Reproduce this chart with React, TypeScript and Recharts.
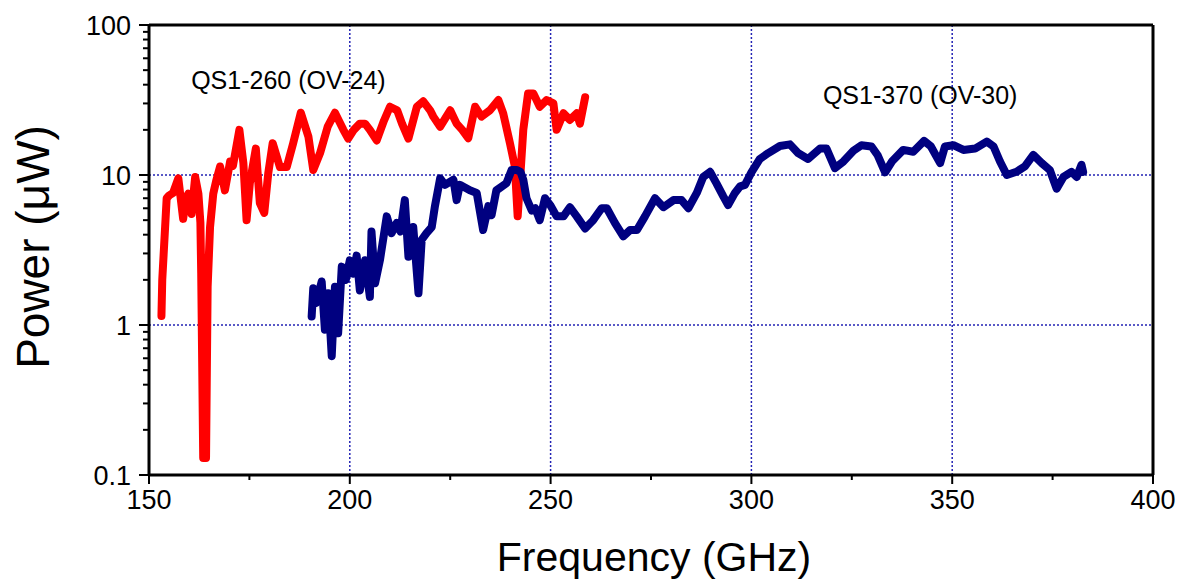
import React from 'react';
import { LineChart, Line, XAxis, YAxis, ReferenceLine, ReferenceDot, Label } from 'recharts';

// Output power of two quasi-optical sources vs. frequency
const qs260Freq = [
  153.1, 153.3, 154.4, 155.0, 156.0, 157.3, 158.5, 159.2, 159.8, 160.6, 161.5, 162.3, 162.8, 163.0,
  163.5, 164.2, 164.6, 165.2, 166.0, 166.8, 167.7, 168.9, 170.2, 170.9, 172.5, 173.5, 174.3, 175.1,
  176.6, 177.6, 178.7, 179.7, 180.8, 182.6, 184.3, 185.9, 187.8, 189.7, 190.9, 192.6, 194.5, 196.3,
  198.4, 199.6, 201.0, 202.5, 203.8, 205.0, 206.7, 208.5, 210.0, 211.8, 213.0, 214.6, 216.7, 218.3,
  220.0, 220.8, 222.5, 225.0, 226.6, 228.0, 229.5, 231.2, 232.8, 234.9, 237.0, 238.2, 239.9, 241.1,
  241.8, 242.4, 243.2, 244.4, 245.7, 247.3, 249.0, 250.7, 251.5, 253.2, 254.8, 256.5, 257.3, 258.6,
];
const qs260Power = [
  1.15, 2.0, 7.0, 7.3, 7.6, 9.5, 5.1, 7.0, 7.5, 5.5, 9.7, 7.5, 4.8, 2.2,
  0.13, 0.13, 1.8, 4.5, 7.5, 9.3, 11.4, 7.9, 12.3, 11.5, 20, 12, 5, 8.8,
  15, 6.5, 5.6, 10.3, 16.3, 11.3, 11.3, 16.3, 26, 18, 10.8, 14, 21, 26,
  20, 17.5, 20, 22, 22, 20, 17, 23, 28.5, 27, 22, 17.5, 28.5, 31,
  27, 24.5, 21, 27, 22, 20, 17.6, 28.5, 24.5, 27, 31.6, 25.8, 16.2, 11.4,
  5.3, 9.3, 20, 35, 35, 28.5, 31.6, 30, 20, 25.8, 23.3, 25.8, 22, 33,
];

const qs370Freq = [
  190.5, 190.9, 191.6, 193.0, 193.8, 194.6, 195.5, 196.3, 197.1, 198.0, 199.0, 200.0, 200.9, 201.7,
  202.5, 203.8, 205.0, 205.4, 206.3, 207.5, 209.2, 210.4, 211.7, 212.6, 213.7, 214.6, 215.8, 217.1,
  217.9, 219.1, 220.4, 221.2, 222.5, 223.7, 225.8, 226.6, 227.4, 229.9, 231.6, 233.2, 234.5, 235.3,
  236.5, 239.0, 240.3, 241.5, 242.5, 243.2, 244.0, 245.3, 246.2, 247.3, 248.6, 249.9, 251.5, 253.2,
  254.8, 256.5, 258.6, 260.6, 262.7, 264.0, 266.0, 268.1, 269.8, 271.5, 273.5, 276.0, 278.1, 280.6,
  282.6, 284.3, 286.4, 288.0, 289.7, 291.3, 293.0, 294.2, 295.9, 297.2, 298.4, 300.0, 302.1, 304.2,
  307.1, 309.6, 311.6, 314.1, 317.1, 318.7, 320.8, 322.9, 325.4, 327.4, 329.9, 331.4, 333.3, 335.1,
  337.8, 340.3, 343.0, 344.7, 347.0, 348.2, 350.3, 352.8, 355.7, 358.6, 360.3, 361.9, 363.6, 366.0,
  368.1, 370.2, 372.3, 374.3, 376.0, 377.7, 379.7, 381.0, 382.2, 382.6,
];
const qs370Power = [
  1.14, 1.76, 1.4, 1.95, 0.93, 1.63, 0.62, 1.8, 0.88, 2.45, 2.0, 2.7, 2.2, 2.9,
  1.7, 2.7, 1.54, 4.2, 1.9, 2.7, 5.3, 4.1, 4.8, 4.2, 6.8, 2.85, 4.5, 1.63,
  3.7, 4.1, 4.5, 6.2, 9.5, 8.6, 9.3, 6.8, 8.6, 7.9, 7.6, 4.3, 6.2, 5.4,
  7.9, 8.8, 10.8, 10.8, 10.5, 9.3, 7.0, 5.8, 6.0, 5.0, 7.0, 6.3, 5.3, 5.3,
  6.1, 5.3, 4.4, 5.0, 6.0, 6.0, 4.8, 3.9, 4.3, 4.3, 5.3, 7.0, 6.1, 6.8,
  6.8, 6.0, 7.6, 9.7, 10.5, 8.8, 7.2, 6.3, 7.6, 8.4, 8.6, 10.4, 12.8, 14,
  15.6, 16, 14, 12.8, 15, 15, 11.1, 12.3, 14.5, 15.8, 15.5, 13.6, 10.4, 12.4,
  14.7, 14.3, 16.9, 15.5, 12, 15.5, 15.8, 14.7, 15, 16.7, 15.5, 12.3, 10, 10.5,
  11.4, 13.6, 12, 10.8, 8.1, 9.7, 10.5, 9.7, 11.7, 10.5,
];

const xMajorTicks = [150, 200, 250, 300, 350, 400];
const xMinorTicks = [175, 225, 275, 325, 375];
const yMajorTicks = [0.1, 1, 10, 100];
const yMinorTicks = [
  0.2, 0.3, 0.4, 0.5, 0.6, 0.7, 0.8, 0.9,
  2, 3, 4, 5, 6, 7, 8, 9,
  20, 30, 40, 50, 60, 70, 80, 90,
];
const xGridValues = [200, 250, 300, 350];
const yGridValues = [1, 10];

const seriesLabels = [
  { text: 'QS1-260 (OV-24)', f: 160.5, p: 43 },
  { text: 'QS1-370 (OV-30)', f: 317.8, p: 34 },
];

const qs260 = qs260Freq.map((f, i) => ({ f, p: qs260Power[i] }));
const qs370 = qs370Freq.map((f, i) => ({ f, p: qs370Power[i] }));

const FONT = '"Liberation Sans", Arial, sans-serif';
const GRID = '#2323b4';
const X_TICK_SIZE = 9;
const X_TICK_MARGIN = 6;
const Y_TICK_SIZE = 10;
const Y_TICK_MARGIN = 8;

function XTick(props: any) {
  const { x, y, payload } = props;
  const major = xMajorTicks.includes(payload.value);
  const axisY = y - X_TICK_SIZE - X_TICK_MARGIN;
  return (
    <g>
      <line x1={x} x2={x} y1={axisY} y2={axisY + (major ? 9 : 5)} stroke="#000" strokeWidth={2} />
      {major && (
        <text x={x} y={y} dy="0.72em" textAnchor="middle" fontFamily={FONT} fontSize={27} fill="#000">
          {payload.value}
        </text>
      )}
    </g>
  );
}

function YTick(props: any) {
  const { x, y, payload } = props;
  const major = yMajorTicks.includes(payload.value);
  const axisX = x + Y_TICK_SIZE + Y_TICK_MARGIN;
  return (
    <g>
      <line x1={axisX} x2={axisX - (major ? 10 : 6)} y1={y} y2={y} stroke="#000" strokeWidth={2} />
      {major && (
        <text x={x} y={y} dy="0.36em" textAnchor="end" fontFamily={FONT} fontSize={27} fill="#000">
          {payload.value}
        </text>
      )}
    </g>
  );
}

export default function App() {
  return (
    <div style={{ position: 'absolute', left: 0, top: 0, background: '#fff' }}>
      <LineChart width={1184} height={583} margin={{ top: 25, right: 31, bottom: 0, left: 0 }}>
        <XAxis
          type="number"
          dataKey="f"
          domain={[150, 400]}
          ticks={[...xMajorTicks, ...xMinorTicks].sort((a, b) => a - b)}
          interval={0}
          height={108}
          tickSize={X_TICK_SIZE}
          tickMargin={X_TICK_MARGIN}
          tickLine={false}
          tick={<XTick />}
          axisLine={{ stroke: '#000', strokeWidth: 3 }}
          allowDataOverflow
        >
          <Label
            content={() => (
              <text x={654} y={557} textAnchor="middle" dominantBaseline="central" fontFamily={FONT} fontSize={41} fill="#000">
                Frequency (GHz)
              </text>
            )}
          />
        </XAxis>
        <YAxis
          type="number"
          dataKey="p"
          scale="log"
          domain={[0.1, 100]}
          ticks={[...yMajorTicks, ...yMinorTicks].sort((a, b) => a - b)}
          interval={0}
          width={149}
          tickSize={Y_TICK_SIZE}
          tickMargin={Y_TICK_MARGIN}
          tickLine={false}
          tick={<YTick />}
          axisLine={{ stroke: '#000', strokeWidth: 3 }}
          allowDataOverflow
        >
          <Label
            content={() => (
              <text x={33} y={247} transform="rotate(-90 33 247)" textAnchor="middle" dominantBaseline="central" fontFamily={FONT} fontSize={46} fill="#000">
                Power (μW)
              </text>
            )}
          />
        </YAxis>

        {xGridValues.map((v) => (
          <ReferenceLine key={`gx${v}`} x={v} stroke={GRID} strokeWidth={1.5} strokeDasharray="2 2" />
        ))}
        {yGridValues.map((v) => (
          <ReferenceLine key={`gy${v}`} y={v} stroke={GRID} strokeWidth={1.5} strokeDasharray="2 2" />
        ))}
        <ReferenceLine y={100} stroke="#000" strokeWidth={3} />
        <ReferenceLine x={400} stroke="#000" strokeWidth={3} />

        <Line
          data={qs260}
          dataKey="p"
          type="linear"
          stroke="#ff0000"
          strokeWidth={8}
          strokeLinejoin="round"
          strokeLinecap="round"
          dot={false}
          isAnimationActive={false}
        />
        <Line
          data={qs370}
          dataKey="p"
          type="linear"
          stroke="#000080"
          strokeWidth={8}
          strokeLinejoin="round"
          strokeLinecap="round"
          dot={false}
          isAnimationActive={false}
        />

        {seriesLabels.map((s) => (
          <ReferenceDot
            key={s.text}
            x={s.f}
            y={s.p}
            r={0}
            fill="none"
            stroke="none"
            label={{ value: s.text, position: 'right', offset: 0, fontFamily: FONT, fontSize: 25, fill: '#000' }}
          />
        ))}
      </LineChart>
    </div>
  );
}
